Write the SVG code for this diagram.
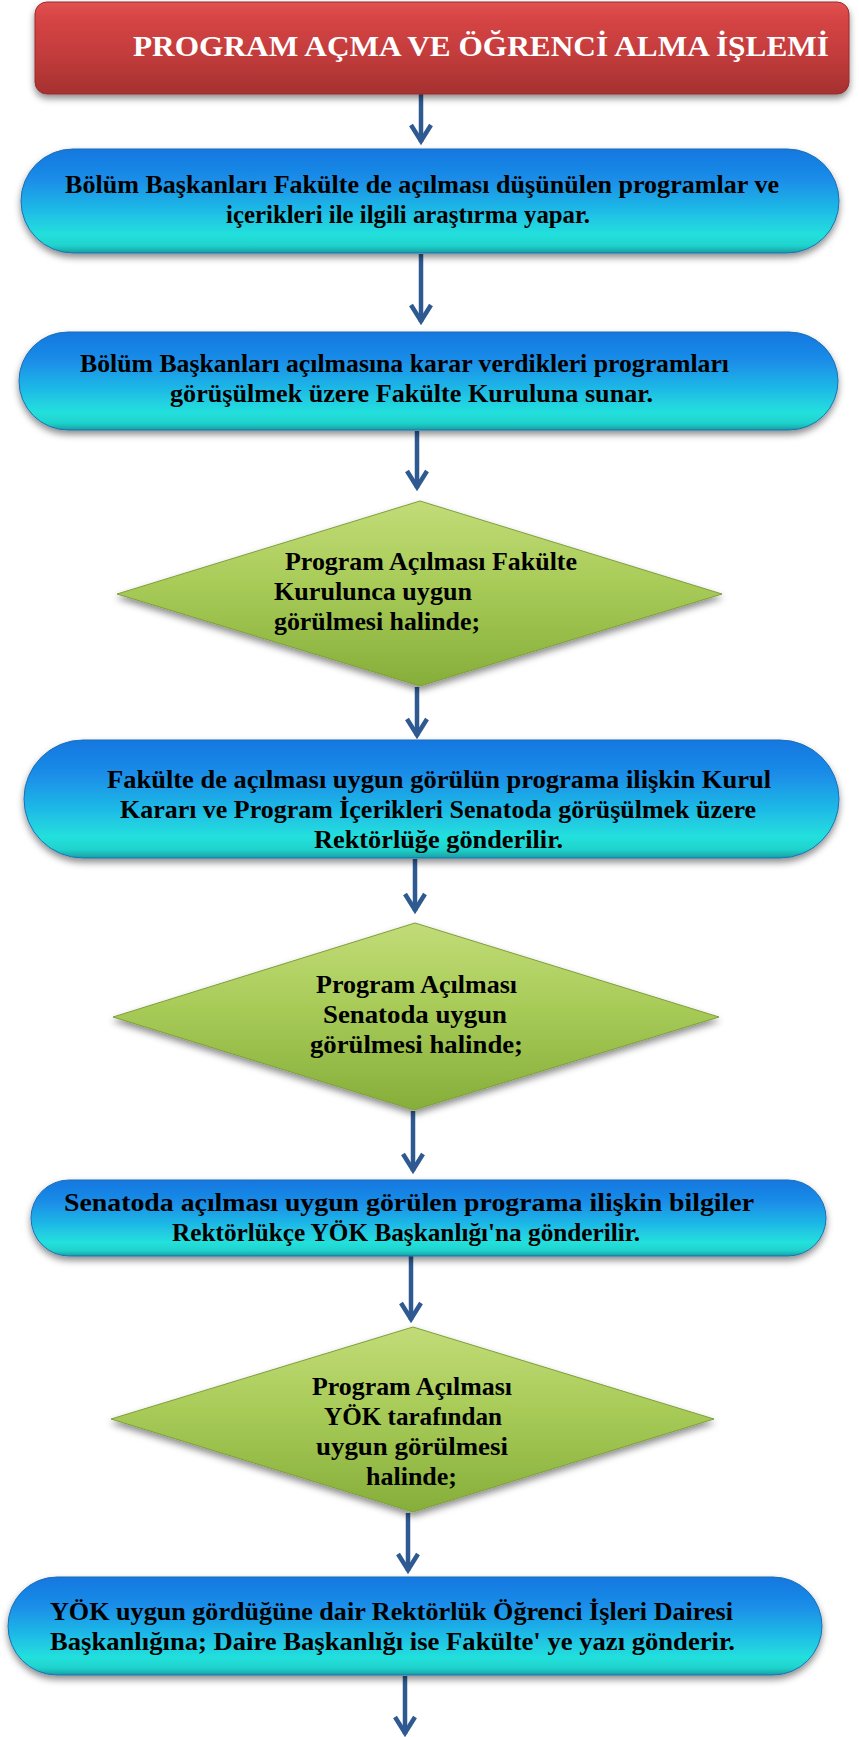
<svg xmlns="http://www.w3.org/2000/svg" width="859" height="1737" viewBox="0 0 859 1737">
  <style>
    .t { font-family: "Liberation Serif", "DejaVu Serif", serif; font-weight: bold; font-size: 26px; fill: #000; }
    .title { font-family: "Liberation Serif", "DejaVu Serif", serif; font-weight: bold; font-size: 29px; fill: #fff; }
    .pill { fill: url(#gPill); stroke: #1b6fb4; stroke-width: 1; filter: url(#shadow); }
    .dia { fill: url(#gDia); stroke: #7f9f3c; stroke-width: 1; filter: url(#shadow); }
    .conn { stroke: #2e5a91; stroke-width: 4.5; fill: none; marker-end: url(#arr); }
  </style>
  <defs>
    <linearGradient id="gTitle" x1="0" y1="0" x2="0" y2="1">
      <stop offset="0" stop-color="#e25353"/>
      <stop offset="0.15" stop-color="#d84545"/>
      <stop offset="0.6" stop-color="#c13b3b"/>
      <stop offset="1" stop-color="#a53130"/>
    </linearGradient>
    <linearGradient id="gPill" x1="0" y1="0" x2="0" y2="1">
      <stop offset="0" stop-color="#1677e0"/>
      <stop offset="0.3" stop-color="#1a8ee8"/>
      <stop offset="0.6" stop-color="#1fbce6"/>
      <stop offset="0.82" stop-color="#23e0dc"/>
      <stop offset="0.93" stop-color="#1fd2cc"/>
      <stop offset="1" stop-color="#179fa2"/>
    </linearGradient>
    <linearGradient id="gDia" x1="0" y1="0" x2="0" y2="1">
      <stop offset="0" stop-color="#c2dc78"/>
      <stop offset="0.45" stop-color="#a8cb58"/>
      <stop offset="1" stop-color="#86ae3a"/>
    </linearGradient>
    <filter id="shadow" x="-5%" y="-10%" width="110%" height="130%">
      <feDropShadow dx="0" dy="4" stdDeviation="3.5" flood-color="#000" flood-opacity="0.45"/>
    </filter>
    <marker id="arr" markerUnits="userSpaceOnUse" markerWidth="26" markerHeight="26" viewBox="0 0 26 26" refX="21" refY="13" orient="auto">
      <path d="M 4 3 L 20 13 L 4 23" fill="none" stroke="#2e5a91" stroke-width="4.5" stroke-linejoin="miter"/>
    </marker>
  </defs>

  <!-- connectors between the steps -->
  <g id="connectors">
    <path class="conn" d="M 421 94 V 142"/>
    <path class="conn" d="M 421 254 V 322"/>
    <path class="conn" d="M 417 431 V 488"/>
    <path class="conn" d="M 417 687 V 736"/>
    <path class="conn" d="M 415 859 V 911"/>
    <path class="conn" d="M 413 1111 V 1171"/>
    <path class="conn" d="M 411 1256 V 1320"/>
    <path class="conn" d="M 408 1513 V 1571"/>
    <path class="conn" d="M 405 1676 V 1734"/>
  </g>

  <!-- heading -->
  <g id="title">
    <rect x="35" y="2" width="814" height="92" rx="12" fill="url(#gTitle)" stroke="#9a2b2b" stroke-width="1" filter="url(#shadow)"/>
    <text class="title" x="133" y="56" textLength="696" lengthAdjust="spacingAndGlyphs">PROGRAM AÇMA VE ÖĞRENCİ ALMA İŞLEMİ</text>
  </g>

  <g id="step1">
    <rect class="pill" x="21" y="149" width="818" height="104" rx="52"/>
    <text class="t" x="65" y="193" textLength="714" lengthAdjust="spacingAndGlyphs">Bölüm Başkanları Fakülte de açılması düşünülen programlar ve</text>
    <text class="t" x="226" y="223" textLength="364" lengthAdjust="spacingAndGlyphs">içerikleri ile ilgili araştırma yapar.</text>
  </g>

  <g id="step2">
    <rect class="pill" x="19" y="332" width="819" height="98" rx="49"/>
    <text class="t" x="80" y="372" textLength="649" lengthAdjust="spacingAndGlyphs">Bölüm Başkanları açılmasına karar verdikleri programları</text>
    <text class="t" x="170" y="402" textLength="483" lengthAdjust="spacingAndGlyphs">görüşülmek üzere Fakülte Kuruluna sunar.</text>
  </g>

  <g id="decision1">
    <polygon class="dia" points="420,501 722,594 420,686 117,594"/>
    <text class="t" x="285" y="570" textLength="292" lengthAdjust="spacingAndGlyphs">Program Açılması Fakülte</text>
    <text class="t" x="274" y="600" textLength="198" lengthAdjust="spacingAndGlyphs">Kurulunca uygun</text>
    <text class="t" x="274" y="630" textLength="206" lengthAdjust="spacingAndGlyphs">görülmesi halinde;</text>
  </g>

  <g id="step3">
    <rect class="pill" x="24" y="740" width="815" height="118" rx="59"/>
    <text class="t" x="107" y="788" textLength="664" lengthAdjust="spacingAndGlyphs">Fakülte de  açılması uygun görülün programa ilişkin Kurul</text>
    <text class="t" x="120" y="818" textLength="636" lengthAdjust="spacingAndGlyphs">Kararı ve Program İçerikleri Senatoda görüşülmek üzere</text>
    <text class="t" x="314" y="848" textLength="249" lengthAdjust="spacingAndGlyphs">Rektörlüğe gönderilir.</text>
  </g>

  <g id="decision2">
    <polygon class="dia" points="415,923 719,1017 414,1110 113,1017"/>
    <text class="t" x="316" y="993" textLength="201" lengthAdjust="spacingAndGlyphs">Program Açılması</text>
    <text class="t" x="323" y="1023" textLength="184" lengthAdjust="spacingAndGlyphs">Senatoda uygun</text>
    <text class="t" x="310" y="1053" textLength="213" lengthAdjust="spacingAndGlyphs">görülmesi halinde;</text>
  </g>

  <g id="step4">
    <rect class="pill" x="31" y="1180" width="795" height="76" rx="38"/>
    <text class="t" x="64" y="1211" textLength="690" lengthAdjust="spacingAndGlyphs">Senatoda açılması uygun görülen programa ilişkin bilgiler</text>
    <text class="t" x="172" y="1241" textLength="468" lengthAdjust="spacingAndGlyphs">Rektörlükçe YÖK Başkanlığı'na gönderilir.</text>
  </g>

  <g id="decision3">
    <polygon class="dia" points="413,1327 714,1419 413,1512 111,1419"/>
    <text class="t" x="312" y="1395" textLength="200" lengthAdjust="spacingAndGlyphs">Program Açılması</text>
    <text class="t" x="324" y="1425" textLength="178" lengthAdjust="spacingAndGlyphs">YÖK tarafından</text>
    <text class="t" x="316" y="1455" textLength="192" lengthAdjust="spacingAndGlyphs">uygun görülmesi</text>
    <text class="t" x="366" y="1485" textLength="91" lengthAdjust="spacingAndGlyphs">halinde;</text>
  </g>

  <g id="step5">
    <rect class="pill" x="8" y="1577" width="814" height="98" rx="49"/>
    <text class="t" x="50" y="1620" textLength="683" lengthAdjust="spacingAndGlyphs">YÖK uygun gördüğüne dair Rektörlük Öğrenci İşleri Dairesi</text>
    <text class="t" x="50" y="1650" textLength="685" lengthAdjust="spacingAndGlyphs">Başkanlığına; Daire Başkanlığı ise Fakülte' ye  yazı gönderir.</text>
  </g>
</svg>
